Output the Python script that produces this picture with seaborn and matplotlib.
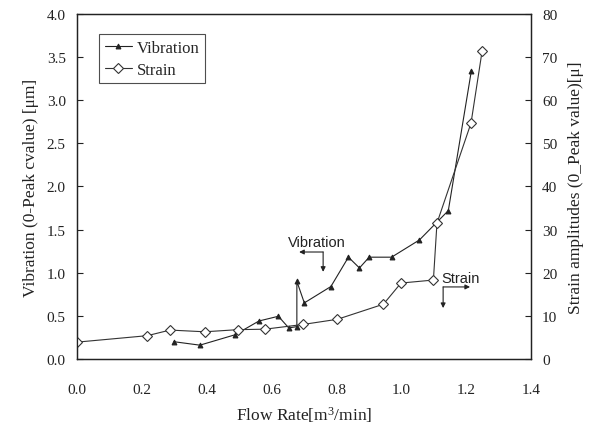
import matplotlib
matplotlib.use("Agg")
import matplotlib.pyplot as plt
import seaborn as sns
import pandas as pd

sns.set_theme(style="white")
plt.rcParams['font.family'] = ['Liberation Serif', 'DejaVu Serif']
plt.rcParams['mathtext.default'] = 'regular'

flow_strain = [0.0, 0.217, 0.287, 0.394, 0.497, 0.579, 0.697, 0.803, 0.945, 0.999, 1.099, 1.110, 1.215, 1.249]
strain = [3.9, 5.4, 6.7, 6.3, 6.8, 6.9, 8.0, 9.2, 12.7, 17.6, 18.3, 31.5, 54.7, 71.3]
flow_vib = [0.299, 0.379, 0.487, 0.561, 0.621, 0.653, 0.678, 0.678, 0.701, 0.783, 0.837, 0.871, 0.901, 0.970, 1.056, 1.145, 1.216]
vib = [0.20, 0.16, 0.28, 0.44, 0.495, 0.36, 0.375, 0.90, 0.65, 0.84, 1.18, 1.055, 1.18, 1.18, 1.38, 1.72, 3.34]
x_ticks = [0.0, 0.2, 0.4, 0.6, 0.8, 1.0, 1.2, 1.4]
left_ticks = [0.0, 0.5, 1.0, 1.5, 2.0, 2.5, 3.0, 3.5, 4.0]
right_ticks = [0, 10, 20, 30, 40, 50, 60, 70, 80]

fig = plt.figure(figsize=(5.92, 4.27), dpi=100)
ax = fig.add_axes([0.130, 0.157, 0.767, 0.808])
ax2 = ax.twinx()

df_v = pd.DataFrame({"x": flow_vib, "y": vib})
df_s = pd.DataFrame({"x": flow_strain, "y": strain})

sns.lineplot(data=df_v, x="x", y="y", ax=ax, estimator=None, sort=False,
             color="#222222", lw=0.8, marker="^", markersize=3.5,
             markerfacecolor="#222222", markeredgecolor="#222222", label="Vibration", legend=False)
sns.lineplot(data=df_s, x="x", y="y", ax=ax2, estimator=None, sort=False,
             color="#333333", lw=0.8, marker="D", markersize=5.5,
             markerfacecolor="white", markeredgecolor="#333333", markeredgewidth=0.8,
             label="Strain", legend=False)

ax.set_xlim(0, 1.4)
ax.set_ylim(0, 4.0)
ax2.set_ylim(0, 80)
ax.set_xticks(x_ticks)
ax.set_xticklabels([f"{v:.1f}" for v in x_ticks])
ax.set_yticks(left_ticks)
ax.set_yticklabels([f"{v:.1f}" for v in left_ticks])
ax2.set_yticks(right_ticks)
ax2.set_yticklabels([str(v) for v in right_ticks])

for a in (ax, ax2):
    a.tick_params(direction="in", length=4, width=0.8, labelsize=11, colors="#222222", pad=8)
    for s in a.spines.values():
        s.set_color("#222222")
        s.set_linewidth(0.9)
ax.tick_params(axis="x", pad=17)

ax.set_xlabel("Flow Rate[m$^{3}$/min]", fontsize=12.5, color="#222222", labelpad=6)
ax.set_ylabel("Vibration (0-Peak cvalue) [μm]", fontsize=12.5, color="#222222", labelpad=6)
ax2.set_ylabel("Strain amplitudes (0_Peak value)[μ]", fontsize=12.5, color="#222222", labelpad=8)

h1, l1 = ax.get_legend_handles_labels()
h2, l2 = ax2.get_legend_handles_labels()
leg = ax.legend(h1 + h2, l1 + l2, loc="upper left", bbox_to_anchor=(0.049, 0.942),
                borderaxespad=0, fontsize=12, frameon=True, fancybox=False,
                handlelength=1.6, handletextpad=0.3, labelspacing=0.35, borderpad=0.35)
leg.get_frame().set_edgecolor("#222222")
leg.get_frame().set_linewidth(0.8)

sans = ['Liberation Sans', 'DejaVu Sans']
ax.text(0.738, 1.36, "Vibration", family=sans, fontsize=10.5, ha="center", va="center", color="#222222")
arr = dict(arrowstyle="-|>", color="#222222", lw=0.8, mutation_scale=7, shrinkA=0, shrinkB=0)
ax.annotate("", xy=(0.685, 1.24), xytext=(0.759, 1.24), arrowprops=arr)
ax.annotate("", xy=(0.759, 1.01), xytext=(0.759, 1.24), arrowprops=arr)
ax.text(1.184, 0.94, "Strain", family=sans, fontsize=10.5, ha="center", va="center", color="#222222")
ax.annotate("", xy=(1.212, 0.835), xytext=(1.129, 0.835), arrowprops=arr)
ax.annotate("", xy=(1.129, 0.59), xytext=(1.129, 0.835), arrowprops=arr)

fig.savefig("out.png", dpi=100)
